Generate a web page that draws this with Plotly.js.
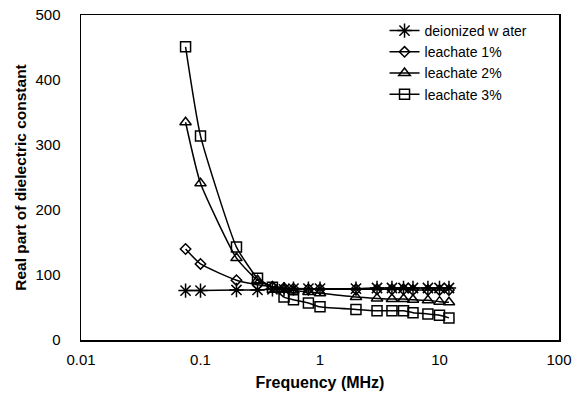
<!DOCTYPE html>
<html>
<head>
<meta charset="utf-8">
<script src="https://cdn.plot.ly/plotly-3.0.1.min.js"></script>
<style>html,body{margin:0;padding:0;background:#fff;}#chart{width:573px;height:400px;}</style>
</head>
<body>
<div id="chart"></div>
<script>
var frequency = [0.075, 0.1, 0.2, 0.3, 0.4, 0.5, 0.6, 0.8, 1, 2, 3, 4, 5, 6, 8, 10, 12];
var water     = [76, 76, 77, 77, 78, 78, 79, 79, 79, 79, 80, 80, 80, 80, 80, 80, 80];
var leach1    = [140, 117, 92, 85, 82, 80, 79, 78, 78, 78, 78, 78, 78, 77, 77, 77, 77];
var leach2    = [335, 241, 126, 92, 82, 78, 76, 74, 72, 66, 64, 63, 63, 62, 61, 59, 58];
var leach3    = [451, 314, 143, 95, 81, 66, 62, 57, 51, 47, 45, 45, 45, 42, 40, 38, 34];
var seriesNames = ["deionized w ater", "leachate 1%", "leachate 2%", "leachate 3%"];
var xTitle = "Frequency (MHz)";
var yTitle = "Real part of dielectric constant";

function mk(y, name, symbol, size) {
  return {
    x: frequency, y: y, name: name, type: 'scatter', mode: 'lines+markers',
    line: {color: '#000', width: 1.5, shape: 'spline', smoothing: 0.5},
    marker: {symbol: symbol, size: size, color: '#000', line: {color: '#000', width: 1.5}}
  };
}
var data = [
  mk(water, seriesNames[0], 'asterisk-open', 12),
  mk(leach1, seriesNames[1], 'diamond-open', 8),
  mk(leach2, seriesNames[2], 'triangle-up-open', 10),
  mk(leach3, seriesNames[3], 'square-open', 10)
];
var layout = {
  width: 573, height: 400,
  margin: {l: 81, r: 14, t: 15, b: 60},
  paper_bgcolor: '#fff', plot_bgcolor: '#fff',
  font: {family: 'Liberation Sans, Arial, sans-serif', color: '#000', size: 15},
  showlegend: true,
  legend: {x: 0.635, y: 1.0, xanchor: 'left', yanchor: 'top', bgcolor: 'rgba(0,0,0,0)',
           font: {size: 14}, tracegroupgap: 0},
  xaxis: {type: 'log', range: [-2, 2], dtick: 1, showgrid: false, zeroline: false,
          showline: true, mirror: true, linecolor: '#000', linewidth: 1.5,
          ticks: '', ticklabelstandoff: 5, tickfont: {size: 15},
          title: {text: xTitle, font: {size: 16, weight: 'bold'}, standoff: 10}},
  yaxis: {range: [0, 500], dtick: 100, showgrid: false, zeroline: false,
          showline: true, mirror: true, linecolor: '#000', linewidth: 1.5,
          ticks: '', ticklabelstandoff: 16, tickfont: {size: 15},
          title: {text: yTitle, font: {size: 15.5, weight: 'bold'}, standoff: 5}}
};
Plotly.newPlot('chart', data, layout, {displayModeBar: false, staticPlot: true});
</script>
</body>
</html>
